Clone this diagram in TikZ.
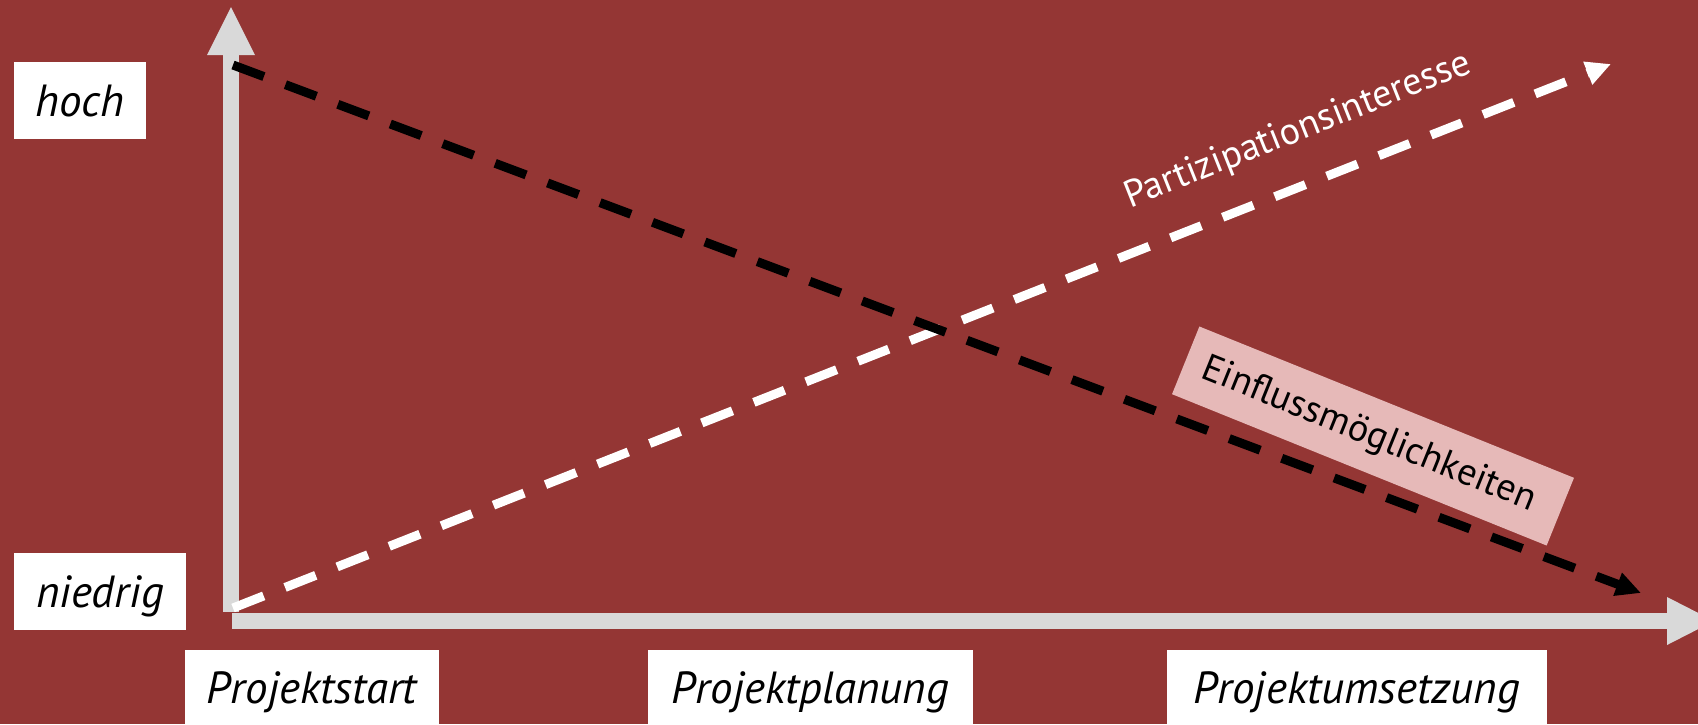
\documentclass[tikz,border=0pt]{standalone}
\usepackage{fontspec}
\setmainfont{PT Sans}
\usetikzlibrary{arrows.meta}
\definecolor{bgred}{HTML}{943634}
\definecolor{axisgray}{HTML}{D9D9D9}
\definecolor{pinkbox}{HTML}{E6B9B8}
\tikzset{
  axislabel/.style={fill=white, inner sep=0pt, font=\fontsize{45}{52}\selectfont\itshape, text height=31pt, text depth=0pt, align=center},
  curveline/.style={line width=9pt, dash pattern=on 33pt off 23pt, -{Triangle[length=25pt,width=23pt]}},
  difflabel/.style={inner sep=0pt, text height=26pt, text depth=0pt, font=\fontsize{38}{44}\selectfont}
}
\begin{document}
\begin{tikzpicture}[x=1pt,y=-1pt]
\fill[bgred] (0,0) rectangle (1698,724);
\useasboundingbox (0,0) rectangle (1698,724);
\begin{scope}
\clip (0,0) rectangle (1698,724);
% axes
\fill[axisgray] (223,55) rectangle (239,612);
\fill[axisgray] (207,55) -- (255,55) -- (231,7) -- cycle;
\fill[axisgray] (232,613) rectangle (1667,629);
\fill[axisgray] (1667,597) -- (1667,645) -- (1714,621) -- cycle;
% labels
\node[axislabel, minimum width=132pt, minimum height=77pt] (hoch) at (80,100.5) {hoch};
\node[axislabel, minimum width=172pt, minimum height=77pt] (niedrig) at (100,591.5) {niedrig};
\node[axislabel, minimum width=254pt, minimum height=75pt] (start) at (312,687.5) {Projektstart};
\node[axislabel, minimum width=325pt, minimum height=75pt] (planung) at (810.5,687.5) {Projektplanung};
\node[axislabel, minimum width=380pt, minimum height=75pt] (umsetzung) at (1357,687.5) {Projektumsetzung};
% curves
\coordinate (w0) at (233,608);
\coordinate (w1) at (1611,64);
\coordinate (k0) at (233,65);
\coordinate (k1) at (1641,593);
\draw[curveline, white] (w0) -- (w1);
\node[difflabel, text=white, rotate=21.7] (partlabel) at (1297,128) {Partizipationsinteresse};
\node[fill=pinkbox, rotate=-22, minimum width=404pt, minimum height=73pt, inner sep=0pt] (einbox) at (1373,436) {};
\node[difflabel, text=black, rotate=-22] (einlabel) at (1370,432) {Einflussmöglichkeiten};
\draw[curveline, black] (k0) -- (k1);
\end{scope}
\end{tikzpicture}
\end{document}
